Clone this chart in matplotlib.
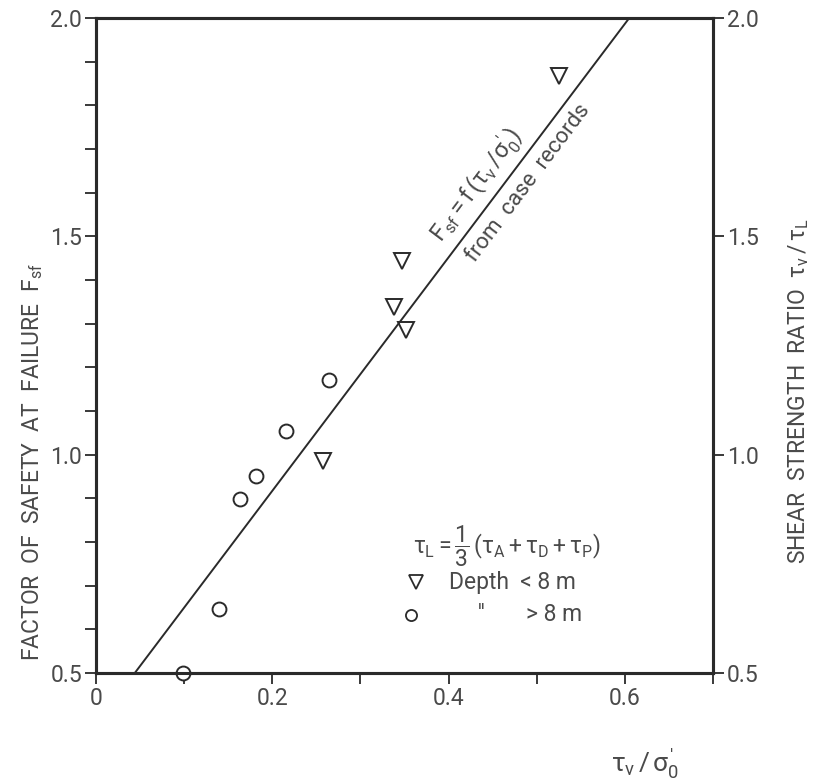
import matplotlib
matplotlib.use("Agg")
import matplotlib.pyplot as plt
import numpy as np

FONT = ['Roboto', 'DejaVu Sans']
plt.rcParams['font.family'] = FONT
plt.rcParams['mathtext.fontset'] = 'custom'
plt.rcParams['mathtext.rm'] = 'Roboto'
plt.rcParams['mathtext.it'] = 'Roboto'
plt.rcParams['mathtext.bf'] = 'Roboto'
plt.rcParams['mathtext.sf'] = 'Roboto'

# Data
tri_x = [0.525, 0.347, 0.338, 0.352, 0.258]
tri_y = [1.867, 1.444, 1.339, 1.285, 0.985]
circ_x = [0.099, 0.140, 0.163, 0.182, 0.216, 0.264]
circ_y = [0.500, 0.646, 0.898, 0.952, 1.055, 1.171]
line_x = [0.044, 0.605]
line_y = [0.5, 2.0]
x_ticks = [0.0, 0.1, 0.2, 0.3, 0.4, 0.5, 0.6, 0.7]
x_ticklabels = ['0', '', '0.2', '', '0.4', '', '0.6', '']
y_ticks = [0.5, 0.6, 0.7, 0.8, 0.9, 1.0, 1.1, 1.2, 1.3, 1.4, 1.5, 1.6, 1.7, 1.8, 1.9, 2.0]
y_labeled = [0.5, 1.0, 1.5, 2.0]

ink = '#2a2a2a'
grey = '#4a4a4a'

fig = plt.figure(figsize=(8.13, 7.82), dpi=100)
ax = fig.add_axes([96/813, 109/782, 617/813, 655/782])
ax.set_xlim(0, 0.7)
ax.set_ylim(0.5, 2.0)

for s in ax.spines.values():
    s.set_linewidth(2.2)
    s.set_color(ink)

ax.set_xticks(x_ticks)
ax.set_xticklabels(x_ticklabels)
ax.set_yticks(y_ticks)
ax.set_yticklabels([('%.1f' % v if v in y_labeled else '') for v in y_ticks])
ax.tick_params(axis='both', direction='out', length=8, width=1.3, color=ink,
               labelsize=16.5, labelcolor=grey, pad=2)

ax2 = ax.twinx()
ax2.set_ylim(0.5, 2.0)
ax2.set_yticks(y_labeled)
ax2.set_yticklabels(['%.1f' % v for v in y_labeled])
ax2.tick_params(axis='y', direction='out', length=8, width=1.3, color=ink,
                labelsize=16.5, labelcolor=grey, pad=2)
for s in ax2.spines.values():
    s.set_linewidth(2.2)
    s.set_color(ink)

ax.plot(line_x, line_y, color=ink, lw=1.4, zorder=3)
ax.plot(tri_x, tri_y, linestyle='none', marker='v', markersize=11,
        markerfacecolor='none', markeredgecolor=ink, markeredgewidth=1.4, zorder=4)
ax.plot(circ_x, circ_y, linestyle='none', marker='o', markersize=10,
        markerfacecolor='white', markeredgecolor=ink, markeredgewidth=1.4,
        zorder=5, clip_on=False)

# diagonal annotations
ax.text(0.432, 1.617, r"$\mathrm{F_{sf}} = \mathrm{f}\,(\tau_v\,/\sigma_0^{\prime})$", rotation=53,
        ha='center', va='center', rotation_mode='anchor', fontsize=17, color=grey)
ax.text(0.491, 1.622, 'from  case  records', rotation=53, ha='center', va='center',
        rotation_mode='anchor', fontsize=16, color=grey)

# legend
ax.text(0.360, 0.789, r'$\tau_L = \dfrac{1}{3}\,(\tau_A + \tau_D + \tau_P)$',
        ha='left', va='center', fontsize=16.5, color=grey)
ax.plot([0.3625], [0.708], marker='v', markersize=10, markerfacecolor='none',
        markeredgecolor=ink, markeredgewidth=1.3, linestyle='none')
ax.text(0.400, 0.708, 'Depth  < 8 m', ha='left', va='center', fontsize=16.5, color=grey)
ax.plot([0.357], [0.633], marker='o', markersize=8, markerfacecolor='none',
        markeredgecolor=ink, markeredgewidth=1.3, linestyle='none')
ax.text(0.433, 0.633, "''", ha='left', va='center', fontsize=16.5, color=grey)
ax.text(0.4875, 0.633, '> 8 m', ha='left', va='center', fontsize=16.5, color=grey)

ax.set_ylabel(r'FACTOR  OF  SAFETY  AT  FAILURE  $\mathrm{F_{sf}}$', fontsize=16.5,
              color=grey)
ax.yaxis.set_label_coords(-0.083, 0.322)
ax2.set_ylabel(r'SHEAR  STRENGTH  RATIO  $\tau_v\,/\,\tau_L$', fontsize=16.5,
               color=grey, rotation=90)
ax2.yaxis.set_label_coords(1.118, 0.43)
fig.text(645/813, 1 - 764/782, r"$\tau_v\,/\,\sigma_0^{\prime}$", fontsize=19,
         color=grey, ha='center', va='center')

fig.savefig('out.png', dpi=100, facecolor='white')
